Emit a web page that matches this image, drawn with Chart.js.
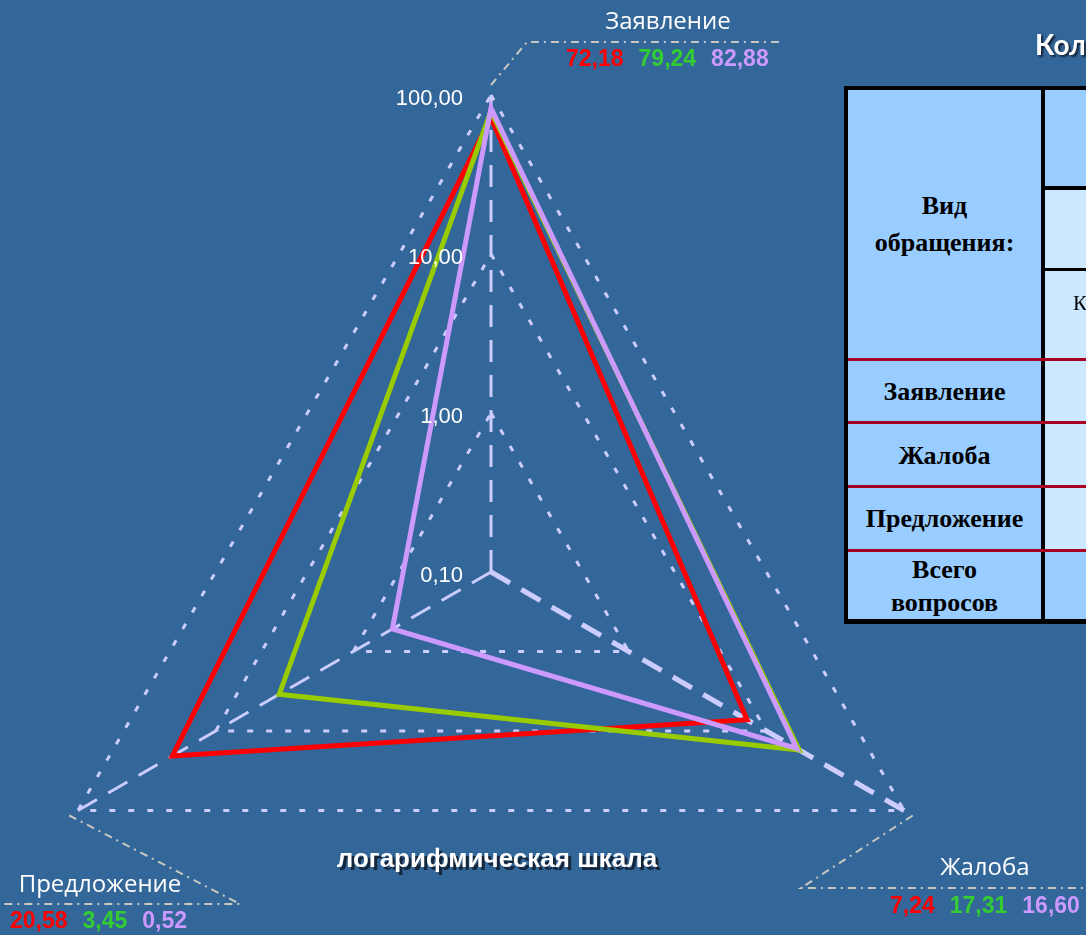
<!DOCTYPE html>
<html lang="ru">
<head>
<meta charset="utf-8">
<title>Радар</title>
<script src="https://cdn.jsdelivr.net/npm/chart.js@4.4.1/dist/chart.umd.min.js"></script>
<style>
    html, body { margin: 0; padding: 0; width: 1086px; height: 935px; overflow: hidden; background: #336699; }
    #wrap { position: absolute; left: 0; top: 0; width: 1086px; height: 1100px; }
    .cell { position: absolute; box-sizing: border-box; display: flex; align-items: center; justify-content: center; text-align: center;
            font-family: "Liberation Serif", serif; font-weight: bold; font-size: 26px; color: #000; line-height: 37px; }
    .hline { position: absolute; height: 3px; background: #a50021; }
    .bline { position: absolute; background: #000; }
    #titre { position: absolute; left: 1035px; top: 27px; font-family: Lato, sans-serif; font-weight: bold; font-size: 28px;
             color: #fff; white-space: nowrap; text-shadow: 2px 2px 2px #15253a; }
</style>
</head>
<body>
<div id="wrap"><canvas id="graphique"></canvas></div>

<div id="titre">Количество обращений граждан</div>

<!-- tableau a droite (coupe par le bord) -->
<div class="cell" style="left:844px; top:86px; width:201px; height:538px; background:#000;"></div>
<div class="cell" style="left:848px; top:90px; width:193px; height:268px; background:#99ccff;">Вид<br>обращения:</div>
<div class="cell" style="left:1045px; top:90px; width:200px; height:96px; background:#99ccff;"></div>
<div class="cell" style="left:1045px; top:190px; width:200px; height:78px; background:#cce8ff;"></div>
<div class="cell" style="left:1045px; top:271px; width:160px; height:87px; background:#cce8ff; font-weight:normal; font-size:21px; line-height:24px;">Количество<br>по годам</div>
<div class="cell" style="left:848px; top:361px; width:193px; height:61px; background:#99ccff;">Заявление</div>
<div class="cell" style="left:1045px; top:361px; width:200px; height:61px; background:#cce8ff;"></div>
<div class="cell" style="left:848px; top:424px; width:193px; height:62px; background:#99ccff;">Жалоба</div>
<div class="cell" style="left:1045px; top:424px; width:200px; height:62px; background:#cce8ff;"></div>
<div class="cell" style="left:848px; top:488px; width:193px; height:61px; background:#99ccff;">Предложение</div>
<div class="cell" style="left:1045px; top:488px; width:200px; height:61px; background:#cce8ff;"></div>
<div class="cell" style="left:848px; top:552px; width:193px; height:67px; background:#99ccff; line-height:33px;">Всего<br>вопросов</div>
<div class="cell" style="left:1045px; top:552px; width:200px; height:67px; background:#99ccff;"></div>
<div class="bline" style="left:1041px; top:86px; width:4px; height:538px;"></div>
<div class="bline" style="left:1045px; top:186px; width:200px; height:4px;"></div>
<div class="bline" style="left:1045px; top:268px; width:200px; height:3px;"></div>
<div class="bline" style="left:844px; top:86px; width:300px; height:4px;"></div>
<div class="bline" style="left:844px; top:619px; width:300px; height:5px;"></div>
<div class="hline" style="left:848px; top:358px; width:300px;"></div>
<div class="hline" style="left:848px; top:421px; width:300px;"></div>
<div class="hline" style="left:848px; top:485px; width:300px;"></div>
<div class="hline" style="left:848px; top:549px; width:300px;"></div>

<script>
// donnees
const categories = ['Заявление', 'Жалоба', 'Предложение'];
const serieRouge = [72.18, 7.24, 20.58];
const serieVerte = [79.24, 17.31, 3.45];
const serieViolette = [82.88, 16.60, 0.52];
const tickValues = [0.1, 1, 10, 100];
const tickLabels = ['0,10', '1,00', '10,00', '100,00'];

const couleursLignes = ['#ff0000', '#99cc00', '#cc99ff'];
const couleursValeurs = ['#ff0000', '#33cc33', '#cc99ff'];
const series = [serieRouge, serieVerte, serieViolette];

// echelle log : on passe par log10, l'axe va de -1 (0,10) a 2 (100,00)
const versLog = v => Math.log10(v);
const formatVirgule = v => v.toFixed(2).replace('.', ',');

// position des etiquettes (coude de la ligne, fin, texte)
const callouts = [
    { coude: [527, 42], fin: [780, 42], label: [668, 22], valeurs: [566, 60] },
    { coude: [801, 888], fin: [1086, 888], label: [985, 868], valeurs: [890, 907] },
    { coude: [240, 904], fin: [0, 904], label: [100, 885], valeurs: [10, 922] }
];

const pluginTextes = {
    id: 'textes',
    afterDraw(chart) {
        const ctx = chart.ctx;
        const scale = chart.scales.r;
        ctx.save();

        // libelles des graduations, a gauche de l'axe vertical
        ctx.font = '22px "Liberation Sans", Arial, sans-serif';
        ctx.fillStyle = '#ffffff';
        ctx.textAlign = 'right';
        ctx.textBaseline = 'middle';
        tickValues.forEach((v, i) => {
            const d = scale.getDistanceFromCenterForValue(versLog(v));
            ctx.fillText(tickLabels[i], scale.xCenter - 28, scale.yCenter - d + 4);
        });

        // lignes de rappel + noms + valeurs
        categories.forEach((cat, i) => {
            const c = callouts[i];
            const p = scale.getPointPosition(i, scale.drawingArea + 10);
            ctx.strokeStyle = '#c8c8c0';
            ctx.lineWidth = 2;
            ctx.setLineDash([8, 5, 2, 5]);
            ctx.beginPath();
            ctx.moveTo(p.x, p.y);
            ctx.lineTo(c.coude[0], c.coude[1]);
            ctx.lineTo(c.fin[0], c.fin[1]);
            ctx.stroke();
            ctx.setLineDash([]);

            ctx.font = '24px "Open Sans", sans-serif';
            ctx.fillStyle = '#ffffff';
            ctx.textAlign = 'center';
            ctx.textBaseline = 'middle';
            ctx.fillText(cat, c.label[0], c.label[1]);

            ctx.font = 'bold 23px "Liberation Sans", Arial, sans-serif';
            ctx.textAlign = 'left';
            let x = c.valeurs[0];
            series.forEach((s, k) => {
                const txt = formatVirgule(s[i]);
                ctx.fillStyle = couleursValeurs[k];
                ctx.fillText(txt, x, c.valeurs[1]);
                x += ctx.measureText(txt).width + 15;
            });
        });

        // mention sous le graphique
        ctx.font = 'bold 26px "Liberation Sans", Arial, sans-serif';
        ctx.textAlign = 'center';
        ctx.fillStyle = '#15253a';
        ctx.fillText('логарифмическая шкала', 500, 863);
        ctx.fillStyle = '#ffffff';
        ctx.fillText('логарифмическая шкала', 497, 860);
        ctx.restore();
    }
};

const graph = document.getElementById('graphique');

new Chart(graph, {
    type: 'radar',
    data: {
        labels: categories,
        datasets: series.map((s, k) => ({
            label: categories[k],
            data: s.map(versLog),
            borderColor: couleursLignes[k],
            backgroundColor: 'transparent',
            borderWidth: 5,
            pointRadius: 0,
            fill: false,
            order: 3 - k
        }))
    },
    options: {
        responsive: true,
        maintainAspectRatio: false,
        animation: false,
        layout: { padding: { left: 14, right: 118, top: 95, bottom: 51 } },
        plugins: { legend: { display: false }, tooltip: { enabled: false } },
        scales: {
            r: {
                min: -1,
                max: 2,
                ticks: { stepSize: 1, display: false },
                pointLabels: { display: false },
                grid: { color: '#ccccff', lineWidth: 3 },
                border: { dash: [6, 13] },
                angleLines: {
                    color: '#ccccff',
                    lineWidth: ctx => [3, 5, 3][ctx.index],
                    borderDash: [22, 13]
                }
            }
        }
    },
    plugins: [pluginTextes]
});
</script>
</body>
</html>
